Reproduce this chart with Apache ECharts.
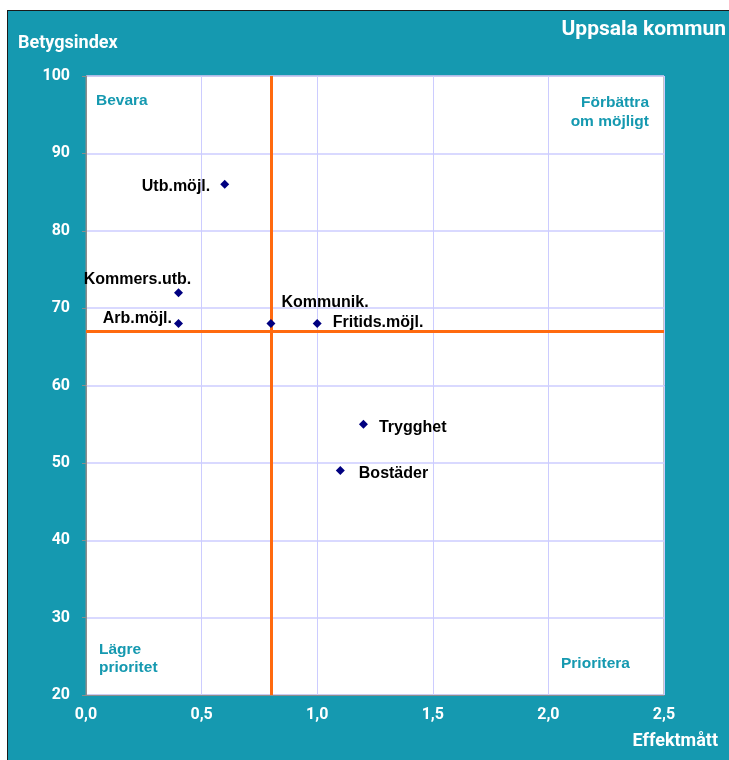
<!DOCTYPE html>
<html>
<head>
<meta charset="utf-8">
<script src="https://cdn.jsdelivr.net/npm/echarts@6/dist/echarts.min.js"></script>
<style>
  html, body { margin: 0; padding: 0; background: #ffffff; }
  #frame { position: absolute; left: 7px; top: 10px; width: 730px; height: 760px;
           background: #1599B0; border-left: 1.5px solid #1a1a1a; border-top: 1.5px solid #1a1a1a; }
  #chart { position: absolute; left: 0; top: 0; width: 729px; height: 760px; }
</style>
</head>
<body>
<div id="frame"></div>
<div id="chart"></div>
<script>
// ---- data ----
const categories = ["Utb.möjl.", "Kommers.utb.", "Arb.möjl.", "Kommunik.", "Fritids.möjl.", "Trygghet", "Bostäder"];
const effektmatt = [0.6, 0.4, 0.4, 0.8, 1.0, 1.2, 1.1];
const betygsindex = [86, 72, 68, 68, 68, 55, 49];
const xTicks = [0, 0.5, 1.0, 1.5, 2.0, 2.5];
const yTicks = [20, 30, 40, 50, 60, 70, 80, 90, 100];
const refX = 0.8;
const refY = 67;

const TEAL = '#1599B0';
const WHITE_FONT = 'Roboto, "Noto Sans", sans-serif';
const LABEL_FONT = '"Liberation Sans", Arial, sans-serif';

// label placement per point name (layout, not data)
const labelLayout = {
  "Utb.möjl.":     { position: 'left',  distance: 10, offset: [0, 2] },
  "Kommers.utb.":  { position: 'top',   distance: 1,  offset: [-41, 0] },
  "Arb.möjl.":     { position: 'left',  distance: 2,  offset: [0, -5] },
  "Kommunik.":     { position: 'right', distance: 6,  offset: [0, -21] },
  "Fritids.möjl.": { position: 'right', distance: 11, offset: [0, -1] },
  "Trygghet":      { position: 'right', distance: 11, offset: [0, 3] },
  "Bostäder":      { position: 'right', distance: 14, offset: [0, 3] }
};

const points = categories.map((name, i) => ({
  name: name,
  value: [effektmatt[i], betygsindex[i]],
  label: Object.assign({ show: true, formatter: name }, labelLayout[name])
}));

const fmt = v => v.toFixed(1).replace('.', ',');

const chart = echarts.init(document.getElementById('chart'), null, { renderer: 'canvas' });
chart.setOption({
  backgroundColor: 'transparent',
  animation: false,
  grid: {
    left: 86, right: 65, top: 76, bottom: 65,
    show: true, backgroundColor: '#ffffff', borderColor: '#8c8c8c', borderWidth: 1
  },
  xAxis: {
    type: 'value',
    min: xTicks[0], max: xTicks[xTicks.length - 1], interval: 0.5,
    axisLine: { show: true, lineStyle: { color: '#8c8c8c', width: 1 } },
    axisTick: { show: false },
    splitLine: { show: true, lineStyle: { color: '#CCCCFF', width: 1 } },
    axisLabel: { color: '#ffffff', fontFamily: WHITE_FONT, fontWeight: 'bold', fontSize: 16, margin: 12, formatter: fmt }
  },
  yAxis: {
    type: 'value',
    min: yTicks[0], max: yTicks[yTicks.length - 1], interval: 10,
    axisLine: { show: true, lineStyle: { color: '#8c8c8c', width: 1 } },
    axisTick: { show: true, length: 4, lineStyle: { color: '#8c8c8c' } },
    splitLine: { show: true, lineStyle: { color: '#CCCCFF', width: 1.5 } },
    axisLabel: { color: '#ffffff', fontFamily: WHITE_FONT, fontWeight: 'bold', fontSize: 16, margin: 16 }
  },
  series: [{
    type: 'scatter',
    z: 5,
    symbol: 'diamond',
    symbolSize: 9,
    itemStyle: { color: '#000080', opacity: 1 },
    label: { color: '#000000', fontFamily: LABEL_FONT, fontWeight: 'bold', fontSize: 16 },
    data: points,
    markLine: {
      silent: true,
      z: 1,
      symbol: ['none', 'none'],
      label: { show: false },
      lineStyle: { color: '#FF6A0F', width: 3, type: 'solid', opacity: 1 },
      data: [{ xAxis: refX }, { yAxis: refY }]
    }
  }],
  graphic: [
    { type: 'text', x: 726, y: 30, style: { text: 'Uppsala kommun', fill: '#ffffff', font: 'bold 21px ' + WHITE_FONT, align: 'right', verticalAlign: 'middle' } },
    { type: 'text', x: 18, y: 43, style: { text: 'Betygsindex', fill: '#ffffff', font: 'bold 18px ' + WHITE_FONT, align: 'left', verticalAlign: 'middle' } },
    { type: 'text', x: 718, y: 741, style: { text: 'Effektmått', fill: '#ffffff', font: 'bold 18px ' + WHITE_FONT, align: 'right', verticalAlign: 'middle' } },
    { type: 'text', x: 96, y: 101, z: 10, style: { text: 'Bevara', fill: TEAL, font: 'bold 15.5px ' + LABEL_FONT, align: 'left', verticalAlign: 'middle' } },
    { type: 'text', x: 649, y: 112, z: 10, style: { text: 'Förbättra\nom möjligt', fill: TEAL, font: 'bold 15.5px ' + LABEL_FONT, lineHeight: 19, align: 'right', verticalAlign: 'middle' } },
    { type: 'text', x: 99, y: 659, z: 10, style: { text: 'Lägre\nprioritet', fill: TEAL, font: 'bold 15.5px ' + LABEL_FONT, lineHeight: 18, align: 'left', verticalAlign: 'middle' } },
    { type: 'text', x: 561, y: 664, z: 10, style: { text: 'Prioritera', fill: TEAL, font: 'bold 15.5px ' + LABEL_FONT, align: 'left', verticalAlign: 'middle' } }
  ]
});
</script>
</body>
</html>
